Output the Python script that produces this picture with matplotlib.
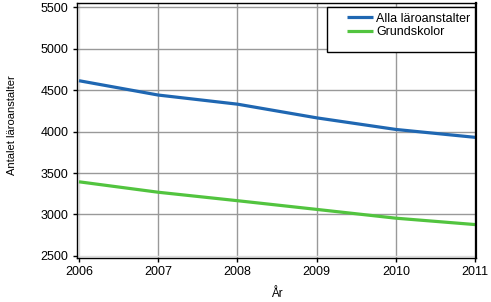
import matplotlib.pyplot as plt
from matplotlib.patches import Rectangle

# data
years = [2006, 2007, 2008, 2009, 2010, 2011]
alla = [4613, 4440, 4330, 4165, 4025, 3930]
grund = [3394, 3268, 3166, 3061, 2955, 2878]

plt.rcParams.update({
    "font.family": ["Liberation Sans", "DejaVu Sans"],
    "font.size": 9,
})

W, H = 491, 302
fig = plt.figure(figsize=(W / 100, H / 100), dpi=100, facecolor="white")
ax = fig.add_axes([77 / W, 1 - 258 / H, 399 / W, 255 / H])

ax.plot(years, alla, color="#1F67B2", linewidth=2.3, label="Alla läroanstalter",
        solid_capstyle="butt")
ax.plot(years, grund, color="#52C43F", linewidth=2.3, label="Grundskolor",
        solid_capstyle="butt")

ax.set_xlim(2005.975, 2011.01)
ax.set_ylim(2475, 5550)
ax.set_xticks(years)
ax.set_yticks([2500, 3000, 3500, 4000, 4500, 5000, 5500])
ax.grid(True, color="#999999", linewidth=1)
ax.set_axisbelow(True)

# the outer grid lines look lighter in the original
ax.get_xgridlines()[0].set_color("#dddddd")
ax.get_xgridlines()[-1].set_color("#cccccc")
ax.get_ygridlines()[0].set_color("#dddddd")

for sp in ax.spines.values():
    sp.set_color("black")
    sp.set_linewidth(1)
ax.spines["right"].set_linewidth(1.6)

ax.tick_params(direction="out", length=3, width=1, colors="black",
               labelsize=9, pad=3)

ax.set_xlabel("År", fontsize=8.5, labelpad=7)
ax.set_ylabel("Antalet läroanstalter", fontsize=8)
# label centre sits a bit above the axes middle, far left
ax.yaxis.set_label_coords(-60 / 399, (258 - 125) / 255)

# legend entries without frame, box drawn separately (uneven padding)
leg = ax.legend(loc="upper left", bbox_to_anchor=(344 / W, 1 - 10 / H),
                bbox_transform=fig.transFigure, fontsize=9, frameon=False,
                borderaxespad=0, borderpad=0.2, handlelength=2.1,
                handletextpad=0.3, labelspacing=0.15)
box = Rectangle((327 / W, 1 - 52 / H), 148 / W, 45 / H,
                transform=fig.transFigure, facecolor="white",
                edgecolor="black", linewidth=1, zorder=4)
ax.add_artist(box)
box.set_clip_on(False)
leg.set_zorder(5)

fig.savefig("out.png", dpi=100)
